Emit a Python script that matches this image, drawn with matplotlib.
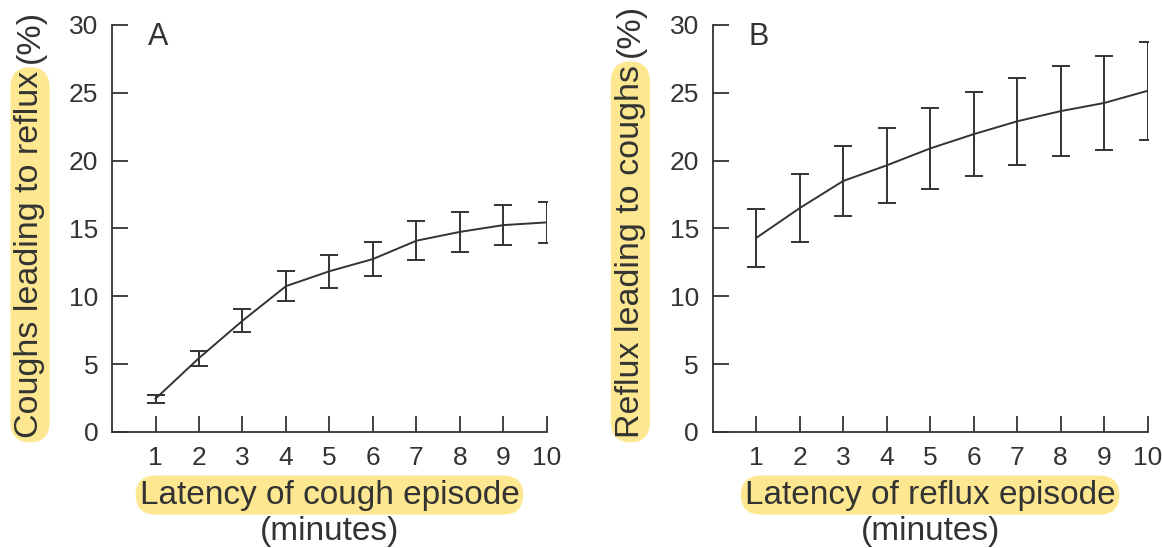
import matplotlib
matplotlib.use('Agg')
import matplotlib.pyplot as plt
import numpy as np

plt.rcParams['font.family'] = ['Liberation Sans', 'DejaVu Sans']

# latency in minutes
latency = [1, 2, 3, 4, 5, 6, 7, 8, 9, 10]

# panel A: coughs leading to reflux (%)
cough_mean = [2.45, 5.45, 8.2, 10.75, 11.85, 12.75, 14.1, 14.75, 15.25, 15.45]
cough_err = [0.3, 0.55, 0.85, 1.1, 1.2, 1.25, 1.45, 1.45, 1.5, 1.5]

# panel B: reflux leading to coughs (%)
reflux_mean = [14.3, 16.5, 18.5, 19.65, 20.9, 21.95, 22.9, 23.65, 24.25, 25.15]
reflux_err = [2.15, 2.5, 2.6, 2.75, 3.0, 3.1, 3.2, 3.3, 3.45, 3.6]

yticks = [0, 5, 10, 15, 20, 25, 30]

ink = '#333333'
hl = '#fde891'

fig = plt.figure(figsize=(11.62, 5.48), dpi=100)

panels = [
    (0.0964, cough_mean, cough_err, 'A', 'Coughs leading to reflux',
     'Latency of cough episode', 0.0258),
    (0.6133, reflux_mean, reflux_err, 'B', 'Reflux leading to coughs',
     'Latency of reflux episode', 0.5425),
]

for left, mean, err, letter, ylab, xlab, ylab_x in panels:
    ax = fig.add_axes([left, 0.2117, 0.3743, 0.7427])
    ax.errorbar(latency, mean, yerr=err, color=ink, lw=1.4, elinewidth=1.4,
                capsize=6.5, capthick=1.4)
    ax.set_xlim(0, 10)
    ax.set_ylim(0, 30)
    ax.set_xticks(latency)
    ax.set_yticks(yticks)
    for s in ['top', 'right']:
        ax.spines[s].set_visible(False)
    for s in ['left', 'bottom']:
        ax.spines[s].set_color(ink)
        ax.spines[s].set_linewidth(1.3)
    ax.tick_params(direction='in', length=11.5, width=1.3, color=ink,
                   labelcolor=ink, labelsize=19)
    ax.tick_params(axis='x', pad=10)
    ax.tick_params(axis='y', pad=10)

    ax.text(0.106, 0.97, letter, transform=ax.transAxes, fontsize=22,
            color=ink, ha='center', va='center')

    # x label: highlighted first line, plain second line
    ax.text(0.5, -0.155, xlab, transform=ax.transAxes, fontsize=24,
            color=ink, ha='center', va='center',
            bbox=dict(boxstyle='round,pad=0.12,rounding_size=0.6', fc=hl, ec='none'))
    ax.text(0.5, -0.245, '(minutes)', transform=ax.transAxes, fontsize=24,
            color=ink, ha='center', va='center')

    # y label: highlighted part then (%)
    t1 = fig.text(ylab_x, 0.2, ylab, rotation=90, fontsize=24.5, color=ink,
                  ha='center', va='bottom',
                  bbox=dict(boxstyle='round,pad=0.12,rounding_size=0.6', fc=hl, ec='none'))
    fig.add_artist(matplotlib.text.Annotation('(%)', xy=(0.5, 1.0), xycoords=t1,
                   xytext=(0, 6), textcoords='offset points', rotation=90,
                   fontsize=24.5, color=ink, ha='center', va='bottom'))

fig.savefig('out.png', dpi=100)
